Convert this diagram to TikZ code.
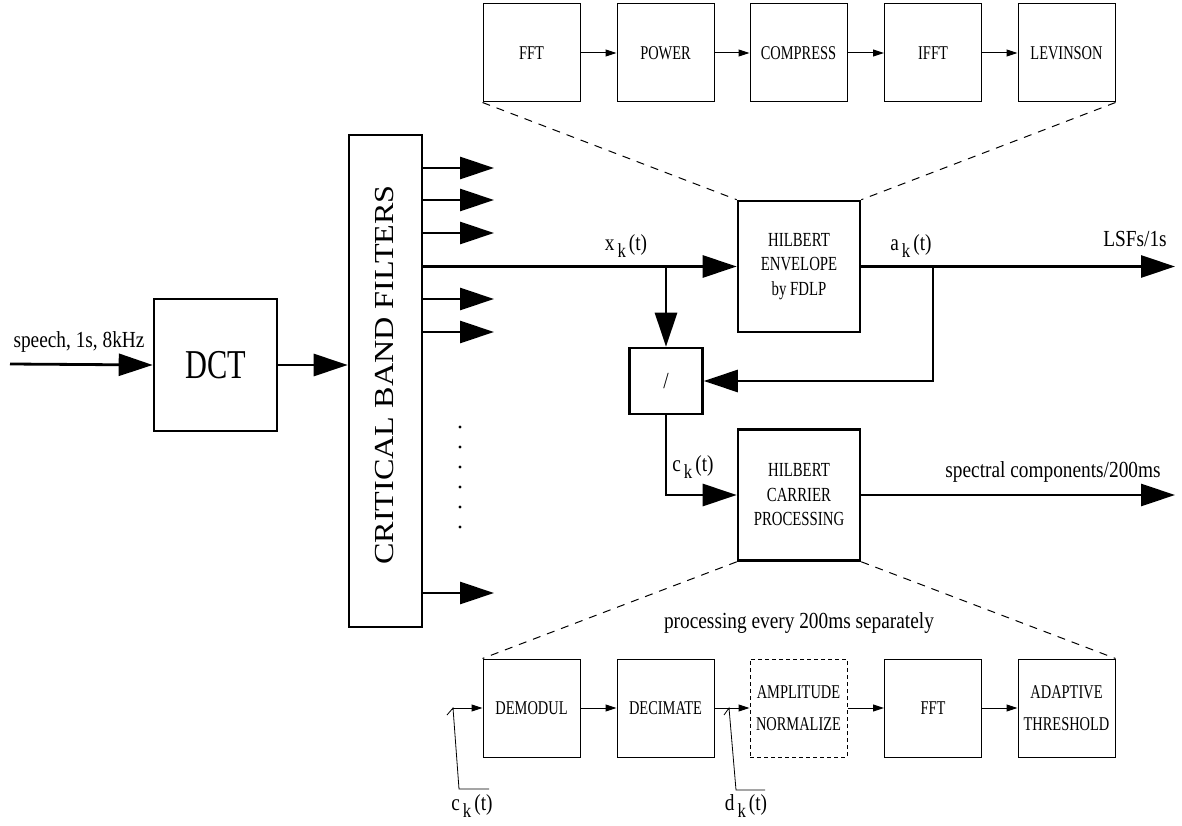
\documentclass[tikz,border=0pt]{standalone}
\usepackage{fontspec}
\setmainfont[FakeStretch=0.84]{Liberation Serif}
\newfontfamily\boxfont[FakeStretch=0.74]{Liberation Serif}
\newfontfamily\widefont[FakeStretch=1.17]{Liberation Serif}
\usetikzlibrary{arrows.meta}

% signal name with lowered k
\newcommand{\sigk}[1]{#1\kern3pt\raisebox{-0.34em}{\fontsize{20}{20}\selectfont k}\kern3pt(t)}

\tikzset{
  bigbox/.style={draw,line width=2.6pt,inner sep=0pt,align=center},
  subbox/.style={draw,line width=1pt,minimum width=97pt,minimum height=98pt,inner sep=0pt,align=center,font=\boxfont\fontsize{19.5}{22}\selectfont},
  bigarrow/.style={line width=2.8pt,-{Triangle[length=34pt,width=22pt]}},
  thinarrow/.style={line width=1pt,-{Triangle[length=11pt,width=7pt]}},
  zoomline/.style={line width=1pt,dash pattern=on 8pt off 7pt},
  leader/.style={line width=0.8pt},
  lbl/.style={font=\fontsize{23}{25}\selectfont,inner sep=0pt},
}

\begin{document}
\begin{tikzpicture}[x=1pt,y=-1pt]
  \useasboundingbox (0,0) rectangle (1182,826);
  % input, DCT and filter bank
  \coordinate (in) at (10,364);
  \node[bigbox,minimum width=123pt,minimum height=132pt,font=\boxfont\fontsize{41}{43}\selectfont] (dct) at (215.5,365) {DCT};
  \node[bigbox,minimum width=73pt,minimum height=492pt] (cbf) at (385.5,381) {};
  \node[rotate=90,inner sep=0pt,font=\widefont\fontsize{27.5}{30}\selectfont] (cbftxt) at (385,375) {CRITICAL BAND FILTERS};
  \node[lbl] (speech) at (79,342) {speech, 1s, 8kHz};
  \draw[bigarrow] (in) -- (dct.west);
  \draw[bigarrow] (dct.east) -- (cbf.west |- dct.east);
  \coordinate (o1) at (494,168);
  \coordinate (o2) at (494,200);
  \coordinate (o3) at (494,233);
  \coordinate (o4) at (494,299);
  \coordinate (o5) at (494,332);
  \coordinate (o6) at (494,593);
  \draw[bigarrow] (cbf.east |- o1) -- (o1);
  \draw[bigarrow] (cbf.east |- o2) -- (o2);
  \draw[bigarrow] (cbf.east |- o3) -- (o3);
  \draw[bigarrow] (cbf.east |- o4) -- (o4);
  \draw[bigarrow] (cbf.east |- o5) -- (o5);
  \draw[bigarrow] (cbf.east |- o6) -- (o6);
  \fill (460,427) circle (1.7pt);
  \fill (460,447) circle (1.7pt);
  \fill (460,467) circle (1.7pt);
  \fill (460,487) circle (1.7pt);
  \fill (460,507) circle (1.7pt);
  \fill (460,527) circle (1.7pt);

  % Hilbert envelope and carrier
  \node[bigbox,minimum width=122pt,minimum height=131pt,font=\boxfont\fontsize{20}{24.5}\selectfont] (he) at (799,266.5) {HILBERT\\ENVELOPE\\by FDLP};
  \node[bigbox,minimum width=73pt,minimum height=66pt,font=\fontsize{23}{25}\selectfont] (dv) at (666,381) {/};
  \node[bigbox,minimum width=122pt,minimum height=131pt,font=\boxfont\fontsize{20}{24.5}\selectfont] (hc) at (799,495) {HILBERT\\CARRIER\\PROCESSING};
  \draw[bigarrow] (cbf.east |- he.west) -- (he.west);
  \coordinate (xbr) at (dv.north |- he.west);
  \draw[bigarrow] (xbr) -- (dv.north);
  \node[lbl] (xk) at (626,246) {\sigk{x}};
  \coordinate (lsf) at (1175,266.5);
  \draw[bigarrow] (he.east) -- (lsf);
  \node[lbl] (lsftxt) at (1135,239) {LSFs/1s};
  \node[lbl] (ak) at (911,246) {\sigk{a}};
  \coordinate (abr) at (933,266.5);
  \draw[bigarrow] (abr) |- (dv.east);
  \draw[bigarrow] (dv.south) |- (hc.west);
  \node[lbl] (ck) at (693,467) {\sigk{c}};
  \coordinate (spc) at (1175,495);
  \draw[bigarrow] (hc.east) -- (spc);
  \node[lbl] (spctxt) at (1053,472) {spectral components/200ms};

  % FDLP chain
  \node[subbox] (t1) at (531.5,53) {FFT};
  \node[subbox] (t2) at (665.5,53) {POWER};
  \node[subbox] (t3) at (798.5,53) {COMPRESS};
  \node[subbox] (t4) at (933,53) {IFFT};
  \node[subbox] (t5) at (1066.5,53) {LEVINSON};
  \draw[thinarrow] (t1) -- (t2);
  \draw[thinarrow] (t2) -- (t3);
  \draw[thinarrow] (t3) -- (t4);
  \draw[thinarrow] (t4) -- (t5);
  \draw[zoomline] (t1.south west) -- (he.north west);
  \draw[zoomline] (t5.south east) -- (he.north east);

  % carrier chain
  \node[lbl] (proc) at (799,623) {processing every 200ms separately};
  \node[subbox] (b1) at (531.5,708) {DEMODUL};
  \node[subbox] (b2) at (665.5,708) {DECIMATE};
  \node[subbox,dash pattern=on 4pt off 3pt,font=\boxfont\fontsize{19.5}{32}\selectfont] (b3) at (798.5,708) {AMPLITUDE\\NORMALIZE};
  \node[subbox] (b4) at (933,708) {FFT};
  \node[subbox,font=\boxfont\fontsize{19.5}{32}\selectfont] (b5) at (1066.5,708) {ADAPTIVE\\THRESHOLD};
  \coordinate (cin) at (453,708);
  \draw[thinarrow] (cin) -- (b1);
  \draw[thinarrow] (b1) -- (b2);
  \draw[thinarrow] (b2) -- (b3);
  \draw[thinarrow] (b3) -- (b4);
  \draw[thinarrow] (b4) -- (b5);
  \draw[zoomline] (hc.south west) -- (b1.north west);
  \draw[zoomline] (hc.south east) -- (b5.north east);
  \draw[leader] (447,715) -- (cin) -- (459,789) -- (489,789);
  \node[lbl] (ckb) at (472,806) {\sigk{c}};
  \coordinate (dk) at (729,708);
  \draw[leader] (724,715) -- (dk) -- (736,790) -- (765,790);
  \node[lbl] (dkb) at (746,806) {\sigk{d}};
\end{tikzpicture}
\end{document}
